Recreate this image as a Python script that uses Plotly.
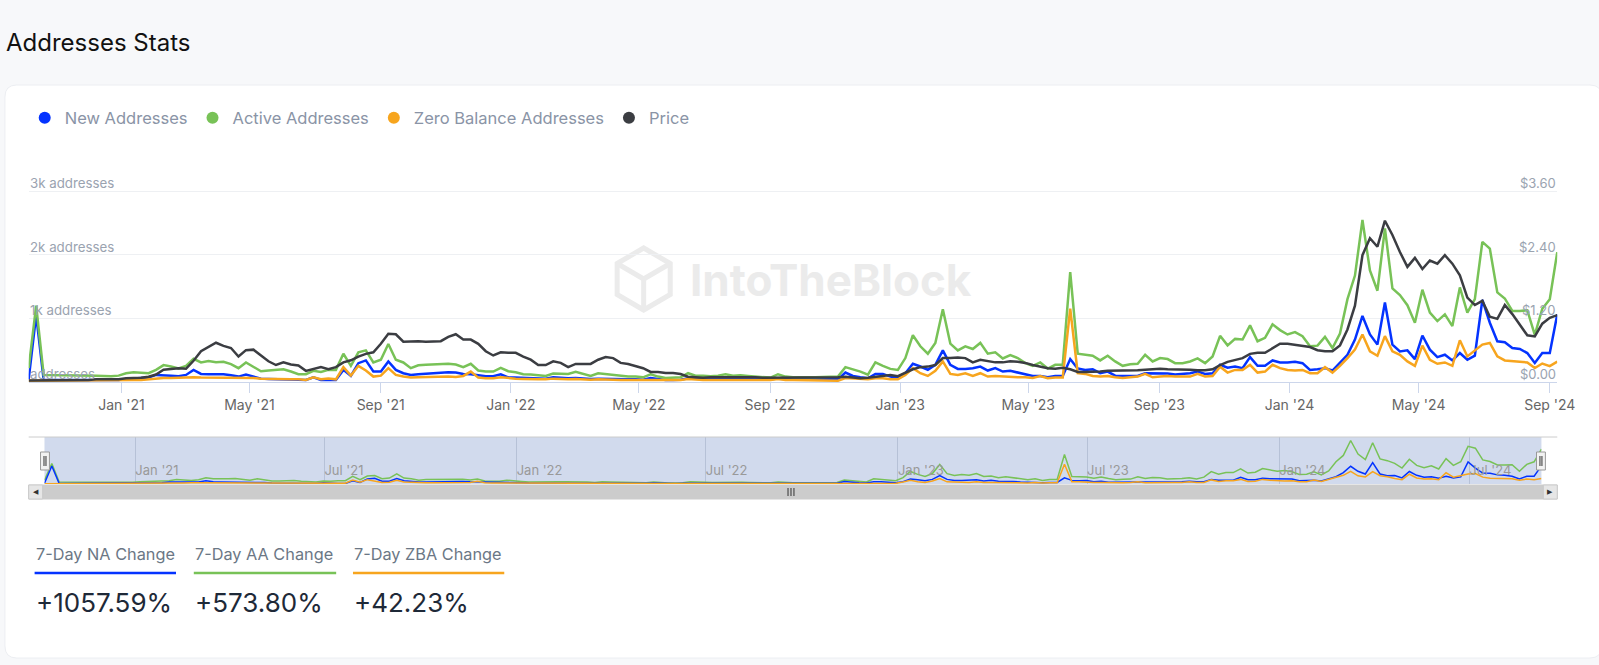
import math

import pandas as pd
import plotly.graph_objects as go

W, H = 1599, 665

# weekly values
new_addresses = [
    40, 1050, 30, 30, 30, 30, 30, 30, 30, 30,
    30, 30, 30, 48, 53, 53, 69, 111, 111, 100,
    90, 111, 190, 127, 122, 122, 122, 106, 85, 116,
    85, 53, 48, 48, 42, 42, 37, 32, 74, 32,
    32, 32, 190, 95, 296, 339, 164, 164, 323, 190,
    138, 111, 122, 132, 143, 148, 153, 148, 127, 122,
    106, 90, 90, 122, 74, 69, 58, 53, 48, 53,
    74, 63, 58, 63, 53, 48, 53, 48, 48, 42,
    42, 42, 37, 63, 42, 32, 32, 37, 58, 48,
    48, 48, 42, 48, 48, 48, 42, 42, 37, 42,
    53, 42, 42, 42, 42, 32, 32, 32, 42, 148,
    95, 74, 58, 127, 127, 85, 69, 138, 286, 243,
    190, 270, 497, 270, 206, 206, 217, 243, 180, 217,
    164, 175, 148, 116, 95, 95, 74, 95, 95, 360,
    212, 190, 201, 138, 164, 100, 100, 100, 95, 138,
    138, 132, 132, 116, 127, 138, 164, 127, 138, 270,
    225, 243, 217, 391, 254, 254, 339, 307, 307, 317,
    296, 190, 201, 217, 180, 296, 428, 667, 1037, 746,
    587, 1248, 587, 481, 497, 360, 730, 508, 391, 428,
    339, 455, 349, 413, 1291, 931, 640, 624, 534, 518,
    455, 300, 455, 455, 1063,
]

active_addresses = [
    217, 1200, 110, 110, 110, 110, 106, 106, 100, 100,
    95, 90, 100, 138, 153, 143, 138, 190, 265, 243,
    212, 254, 365, 307, 328, 312, 317, 280, 217, 307,
    233, 169, 180, 190, 201, 164, 122, 122, 175, 159,
    190, 190, 444, 254, 466, 497, 307, 349, 598, 349,
    307, 217, 262, 270, 275, 286, 286, 275, 233, 286,
    180, 164, 164, 222, 169, 153, 122, 116, 106, 95,
    132, 127, 127, 159, 122, 95, 138, 122, 111, 95,
    85, 85, 74, 122, 85, 63, 63, 74, 138, 100,
    100, 90, 100, 122, 100, 106, 95, 85, 69, 69,
    122, 85, 74, 69, 74, 74, 74, 74, 85, 233,
    201, 164, 116, 307, 254, 206, 190, 376, 735, 561,
    444, 614, 1143, 603, 497, 561, 518, 614, 444, 466,
    370, 423, 376, 296, 254, 307, 212, 270, 270, 1725,
    444, 428, 413, 339, 413, 323, 254, 280, 286, 428,
    323, 376, 360, 296, 296, 323, 370, 296, 402, 725,
    575, 677, 667, 889, 640, 693, 905, 815, 746, 783,
    719, 561, 571, 709, 534, 762, 1301, 1672, 2545, 1751,
    1434, 2412, 1471, 1365, 1206, 931, 1449, 1090, 957, 1063,
    878, 1486, 1090, 1301, 2201, 2095, 1407, 1312, 1116, 1116,
    1127, 740, 1150, 1300, 2040,
]

zero_balance_addresses = [
    20, 20, 20, 20, 20, 20, 20, 20, 22, 22,
    24, 25, 26, 28, 30, 32, 42, 58, 63, 63,
    69, 69, 74, 69, 69, 69, 74, 63, 63, 74,
    63, 53, 48, 48, 48, 42, 42, 32, 74, 42,
    53, 42, 233, 100, 254, 180, 85, 100, 217, 111,
    85, 69, 74, 79, 85, 85, 85, 79, 95, 164,
    69, 58, 58, 74, 58, 53, 48, 42, 42, 42,
    53, 48, 42, 48, 42, 37, 42, 35, 32, 32,
    30, 30, 32, 35, 30, 28, 28, 30, 48, 35,
    32, 32, 30, 32, 32, 30, 30, 30, 30, 32,
    48, 32, 30, 30, 30, 21, 21, 21, 21, 63,
    53, 42, 42, 58, 58, 42, 42, 111, 217, 138,
    95, 175, 323, 127, 111, 138, 95, 138, 85, 95,
    85, 85, 74, 74, 63, 95, 58, 69, 69, 1153,
    138, 127, 95, 85, 95, 74, 63, 74, 85, 127,
    74, 85, 95, 85, 85, 85, 127, 85, 95, 240,
    148, 190, 190, 270, 148, 164, 270, 217, 190, 180,
    190, 138, 138, 233, 148, 254, 376, 508, 746, 481,
    413, 720, 481, 428, 323, 254, 571, 349, 286, 307,
    254, 656, 402, 497, 587, 614, 402, 339, 323, 317,
    307, 220, 290, 250, 320,
]

price = [
    0.03, 0.03, 0.03, 0.03, 0.03, 0.03, 0.04, 0.04, 0.04, 0.05,
    0.05, 0.06, 0.05, 0.07, 0.07, 0.08, 0.10, 0.14, 0.23, 0.25,
    0.26, 0.25, 0.40, 0.58, 0.66, 0.74, 0.68, 0.64, 0.48, 0.60,
    0.61, 0.50, 0.39, 0.32, 0.37, 0.33, 0.31, 0.21, 0.24, 0.28,
    0.24, 0.28, 0.37, 0.41, 0.48, 0.53, 0.56, 0.72, 0.91, 0.90,
    0.76, 0.77, 0.77, 0.76, 0.77, 0.77, 0.85, 0.90, 0.80, 0.80,
    0.72, 0.58, 0.50, 0.56, 0.55, 0.55, 0.48, 0.42, 0.32, 0.32,
    0.39, 0.36, 0.28, 0.34, 0.34, 0.34, 0.42, 0.47, 0.45, 0.36,
    0.34, 0.30, 0.26, 0.19, 0.19, 0.17, 0.17, 0.15, 0.10, 0.09,
    0.08, 0.09, 0.09, 0.10, 0.10, 0.10, 0.10, 0.09, 0.08, 0.08,
    0.09, 0.09, 0.08, 0.08, 0.08, 0.08, 0.09, 0.09, 0.09, 0.10,
    0.09, 0.07, 0.08, 0.10, 0.11, 0.13, 0.11, 0.18, 0.24, 0.28,
    0.29, 0.32, 0.45, 0.45, 0.46, 0.45, 0.37, 0.42, 0.39, 0.37,
    0.37, 0.39, 0.38, 0.36, 0.32, 0.29, 0.26, 0.25, 0.27, 0.24,
    0.19, 0.19, 0.19, 0.20, 0.21, 0.21, 0.22, 0.22, 0.22, 0.23,
    0.24, 0.25, 0.24, 0.24, 0.23, 0.23, 0.22, 0.22, 0.24, 0.32,
    0.38, 0.42, 0.45, 0.53, 0.55, 0.55, 0.64, 0.72, 0.72, 0.70,
    0.69, 0.66, 0.60, 0.58, 0.58, 0.69, 0.99, 1.44, 2.39, 2.71,
    2.55, 3.04, 2.77, 2.45, 2.17, 2.34, 2.13, 2.29, 2.23, 2.39,
    2.23, 2.01, 1.59, 1.45, 1.53, 1.23, 1.19, 1.45, 1.28, 1.09,
    0.88, 0.86, 1.10, 1.21, 1.26,
]

series_names = ['New Addresses', 'Active Addresses', 'Zero Balance Addresses', 'Price']
series_colors = ['#0433ff', '#78c257', '#f7a51e', '#3b3d42']

left_tickvals = [0, 1000, 2000, 3000]
left_ticktext = ['addresses', '1k addresses', '2k addresses', '3k addresses']
right_tickvals = [0, 1.2, 2.4, 3.6]
right_ticktext = ['$0.00', '$1.20', '$2.40', '$3.60']

x_tickvals = ['2021-01-01', '2021-05-01', '2021-09-01', '2022-01-01', '2022-05-01',
              '2022-09-01', '2023-01-01', '2023-05-01', '2023-09-01', '2024-01-01',
              '2024-05-01', '2024-09-01']
x_ticktext = ["Jan '21", "May '21", "Sep '21", "Jan '22", "May '22", "Sep '22",
              "Jan '23", "May '23", "Sep '23", "Jan '24", "May '24", "Sep '24"]
x_range = ['2020-10-06', '2024-09-08']

change_labels = ['7-Day NA Change', '7-Day AA Change', '7-Day ZBA Change']
change_values = ['+1057.59%', '+573.80%', '+42.23%']

lengths = [len(new_addresses), len(active_addresses),
           len(zero_balance_addresses), len(price)]
if len(set(lengths)) != 1:
    raise ValueError(f'series lengths differ: {lengths}')

# weekly points spread over the visible period, first and last on the edges
dates = pd.date_range(start=x_range[0], end=x_range[1], periods=len(new_addresses))

FONT = 'Inter, Roboto, sans-serif'

# plot area in pixels: bottom at 382, 3k gridline at 191
PLOT_BOTTOM, GRID_TOP, PLOT_TOP = 382, 191, 160
Y_MAX = 3000 * (PLOT_BOTTOM - PLOT_TOP) / (PLOT_BOTTOM - GRID_TOP)
Y2_MAX = Y_MAX / 3000 * 3.6


def px(x):
    """pixel x -> paper x"""
    return x / W


def py(y):
    """pixel y (from top) -> paper y"""
    return 1 - y / H


fig = go.Figure()

# main chart lines
address_series = [new_addresses, active_addresses, zero_balance_addresses]
for name, vals, color in zip(series_names[:3], address_series, series_colors[:3]):
    fig.add_trace(go.Scatter(x=dates, y=vals, name=name, mode='lines',
                             line=dict(color=color, width=2.5),
                             xaxis='x', yaxis='y', showlegend=False))
fig.add_trace(go.Scatter(x=dates, y=price, name='Price', mode='lines',
                         line=dict(color=series_colors[3], width=2.5),
                         xaxis='x', yaxis='y2', showlegend=False))

# navigator lines
for vals, color in zip([active_addresses, new_addresses, zero_balance_addresses],
                       [series_colors[1], series_colors[0], series_colors[2]]):
    fig.add_trace(go.Scatter(x=dates, y=vals, mode='lines',
                             line=dict(color=color, width=1.5),
                             xaxis='x3', yaxis='y3', showlegend=False,
                             hoverinfo='skip'))

# legend entries (round markers like the original)
for name, color in zip(series_names, series_colors):
    fig.add_trace(go.Scatter(x=[None], y=[None], name=name, mode='markers',
                             marker=dict(color=color, size=12),
                             xaxis='x', yaxis='y'))

shapes = []


def rounded_rect(x0, y0, x1, y1, r):
    rx, ry = r / W, r / H
    a0, a1 = px(x0), px(x1)
    b0, b1 = py(y0), py(y1)
    return (f'M {a0 + rx},{b0} L {a1 - rx},{b0} Q {a1},{b0} {a1},{b0 - ry} '
            f'L {a1},{b1 + ry} Q {a1},{b1} {a1 - rx},{b1} '
            f'L {a0 + rx},{b1} Q {a0},{b1} {a0},{b1 + ry} '
            f'L {a0},{b0 - ry} Q {a0},{b0} {a0 + rx},{b0} Z')


# white card (runs off the right edge like in the screenshot)
shapes.append(dict(type='path', xref='paper', yref='paper', layer='below',
                   path=rounded_rect(5, 85, 1620, 658, 12),
                   fillcolor='#ffffff', line=dict(color='#eceef2', width=1)))

# watermark logo (hexagon cube)
cx, cy, r = 651, 279, 31
verts = [(cx + r * math.cos(math.radians(90 + 60 * k)),
          cy - r * math.sin(math.radians(90 + 60 * k))) for k in range(6)]
hex_path = 'M ' + ' L '.join(f'{px(x)},{py(y)}' for x, y in verts) + ' Z'
shapes.append(dict(type='path', xref='paper', yref='paper', layer='below',
                   path=hex_path, line=dict(color='#ebebeb', width=5)))
for k in (1, 3, 5):
    vx, vy = verts[k]
    shapes.append(dict(type='line', xref='paper', yref='paper', layer='below',
                       x0=px(cx), y0=py(cy), x1=px(vx), y1=py(vy),
                       line=dict(color='#ebebeb', width=5)))

# navigator mask and outline
shapes.append(dict(type='rect', xref='paper', yref='paper', layer='below',
                   x0=px(45), x1=px(1559), y0=py(484), y1=py(437),
                   fillcolor='rgba(102,133,194,0.3)', line=dict(width=0)))
shapes.append(dict(type='line', xref='paper', yref='paper',
                   x0=px(29), x1=px(1575), y0=py(437), y1=py(437),
                   line=dict(color='#cccccc', width=1)))

# scrollbar
shapes.append(dict(type='rect', xref='paper', yref='paper',
                   x0=px(29), x1=px(1575), y0=py(499), y1=py(485),
                   fillcolor='#cccccc', line=dict(color='#cccccc', width=1)))
for bx in (29, 1561):
    shapes.append(dict(type='rect', xref='paper', yref='paper',
                       x0=px(bx), x1=px(bx + 14), y0=py(499), y1=py(485),
                       fillcolor='#e6e6e6', line=dict(color='#cccccc', width=1)))
for gx in (797, 800, 803):
    shapes.append(dict(type='line', xref='paper', yref='paper',
                       x0=px(gx), x1=px(gx), y0=py(496), y1=py(488),
                       line=dict(color='#333333', width=1)))

# navigator handles
for hx in (41, 1554):
    shapes.append(dict(type='rect', xref='paper', yref='paper',
                       x0=px(hx), x1=px(hx + 9), y0=py(470), y1=py(452),
                       fillcolor='#f2f2f2', line=dict(color='#999999', width=1)))
    for lx in (hx + 3.5, hx + 5.5):
        shapes.append(dict(type='line', xref='paper', yref='paper',
                           x0=px(lx), x1=px(lx), y0=py(466), y1=py(456),
                           line=dict(color='#333333', width=1)))

annotations = [
    dict(text='Addresses Stats', x=px(4), y=py(43), xref='paper', yref='paper',
         xanchor='left', yanchor='middle', showarrow=False,
         font=dict(family=FONT, size=24, color='#111111')),
    dict(text='<b>IntoTheBlock</b>', x=px(840), y=py(280), xref='paper', yref='paper',
         xanchor='center', yanchor='middle', showarrow=False,
         font=dict(family=FONT, size=44, color='#ebebeb')),
    dict(text='◀', x=px(36), y=py(492), xref='paper', yref='paper',
         xanchor='center', yanchor='middle', showarrow=False,
         font=dict(family='DejaVu Sans', size=7, color='#333333')),
    dict(text='▶', x=px(1568), y=py(492), xref='paper', yref='paper',
         xanchor='center', yanchor='middle', showarrow=False,
         font=dict(family='DejaVu Sans', size=7, color='#333333')),
]

# y axis labels sit just above their gridlines, inside the plot
for val, text in zip(left_tickvals, left_ticktext):
    annotations.append(dict(text=text, x=px(29), y=val, xref='paper', yref='y',
                            xanchor='left', yanchor='bottom', showarrow=False,
                            borderpad=0, yshift=-1,
                            font=dict(family=FONT, size=13.3, color='#9aa3b0')))
for val, text in zip(right_tickvals, right_ticktext):
    annotations.append(dict(text=text, x=px(1575), y=val, xref='paper', yref='y2',
                            xanchor='right', yanchor='bottom', showarrow=False,
                            borderpad=0, yshift=-1,
                            font=dict(family=FONT, size=13, color='#9aa3b0')))

# 7-day change blocks
block_x = [35, 196, 357]
block_w = [143, 144, 153]
for label, value, color, bx, bw in zip(change_labels, change_values,
                                       series_colors[:3], block_x, block_w):
    annotations.append(dict(text=label, x=px(bx - 1), y=py(554), xref='paper', yref='paper',
                            xanchor='left', yanchor='middle', showarrow=False,
                            font=dict(family=FONT, size=16.3, color='#6b7785')))
    annotations.append(dict(text=value, x=px(bx - 1), y=py(602), xref='paper', yref='paper',
                            xanchor='left', yanchor='middle', showarrow=False,
                            font=dict(family=FONT, size=26, color='#1e2938')))
    shapes.append(dict(type='line', xref='paper', yref='paper',
                       x0=px(bx), x1=px(bx + bw), y0=py(573), y1=py(573),
                       line=dict(color=color, width=2.5)))

fig.update_layout(
    width=W, height=H,
    margin=dict(l=0, r=0, t=0, b=0),
    paper_bgcolor='#f7f8fa',
    plot_bgcolor='rgba(0,0,0,0)',
    font=dict(family=FONT),
    showlegend=True,
    legend=dict(orientation='h', x=px(25), y=py(118), xanchor='left', yanchor='middle',
                font=dict(family=FONT, size=16.5, color='#8a94a6'),
                bgcolor='rgba(0,0,0,0)', itemsizing='trace'),
    xaxis=dict(domain=[px(29), px(1575)], anchor='y', range=x_range,
               tickmode='array', tickvals=x_tickvals, ticktext=x_ticktext,
               ticks='outside', ticklen=10, tickcolor='#ccd6eb',
               showline=True, linecolor='#ccd6eb', showgrid=False, zeroline=False,
               ticklabeloverflow='allow',
               tickfont=dict(family=FONT, size=14, color='#666666')),
    yaxis=dict(domain=[py(PLOT_BOTTOM), py(PLOT_TOP)], anchor='x', range=[0, Y_MAX],
               tickmode='array', tickvals=left_tickvals, showticklabels=False,
               gridcolor='#eef0f3', showline=False, zeroline=False),
    yaxis2=dict(overlaying='y', side='right', anchor='x', range=[0, Y2_MAX],
                showticklabels=False, showgrid=False, zeroline=False),
    xaxis3=dict(domain=[px(45), px(1559)], anchor='y3', range=x_range,
                tickformat="%b '%y", dtick='M6', tick0='2021-01-01',
                ticklabelposition='inside right', showgrid=True,
                gridcolor='rgba(120,135,165,0.3)', showline=False, zeroline=False,
                tickfont=dict(family=FONT, size=13, color='#999999')),
    yaxis3=dict(domain=[py(484), py(437)], anchor='x3', range=[0, 2750],
                visible=False),
    shapes=shapes,
    annotations=annotations,
)

fig.write_html("out.html", config={'displayModeBar': False},
               post_script="document.body.style.margin='0';"
                           "document.body.style.overflow='hidden';")
